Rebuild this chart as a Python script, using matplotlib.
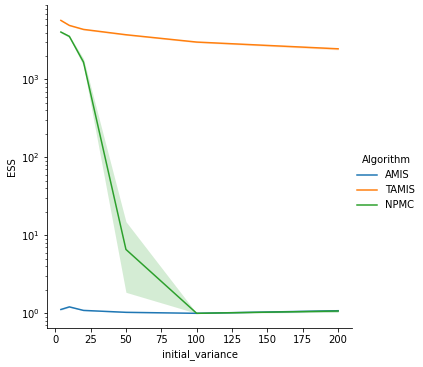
import matplotlib
matplotlib.use('Agg')
from matplotlib import pyplot as plt

variances = [4, 10, 20, 50, 100, 200]
algorithms = ['AMIS', 'TAMIS', 'NPMC']

ess_mean = {
    'AMIS': [1.12, 1.21, 1.09, 1.03, 1.0, 1.08],
    'TAMIS': [5730, 4940, 4390, 3750, 3020, 2475],
    'NPMC': [4060, 3570, 1670, 6.6, 1.0, 1.07],
}
ess_low = {
    'AMIS': [1.10, 1.19, 1.08, 1.02, 1.0, 1.05],
    'TAMIS': [5600, 4850, 4300, 3680, 2960, 2400],
    'NPMC': [3950, 3450, 1500, 1.86, 1.0, 1.03],
}
ess_high = {
    'AMIS': [1.14, 1.23, 1.10, 1.04, 1.0, 1.11],
    'TAMIS': [5850, 5030, 4480, 3820, 3080, 2540],
    'NPMC': [4170, 3690, 1850, 15, 1.0, 1.11],
}
colors = {'AMIS': 'tab:blue', 'TAMIS': 'tab:orange', 'NPMC': 'tab:green'}

fig = plt.figure(figsize=(423 / 72, 367 / 72), dpi=72)
ax = fig.add_axes([47 / 423, 39 / 367, 305 / 423, 323 / 367])

for name in algorithms:
    ax.plot(variances, ess_mean[name], color=colors[name], label=name, lw=1.5)
    ax.fill_between(variances, ess_low[name], ess_high[name], color=colors[name], alpha=0.2, lw=0)

ax.set_yscale('log')
ax.set_xlabel('initial_variance')
ax.set_ylabel('ESS')
ax.spines['top'].set_visible(False)
ax.spines['right'].set_visible(False)

handles, labels = ax.get_legend_handles_labels()
fig.legend(handles, labels, title='Algorithm', frameon=False, loc='center',
           bbox_to_anchor=(386 / 423, 1 - 183 / 367))

fig.savefig('out.png', dpi=72)
